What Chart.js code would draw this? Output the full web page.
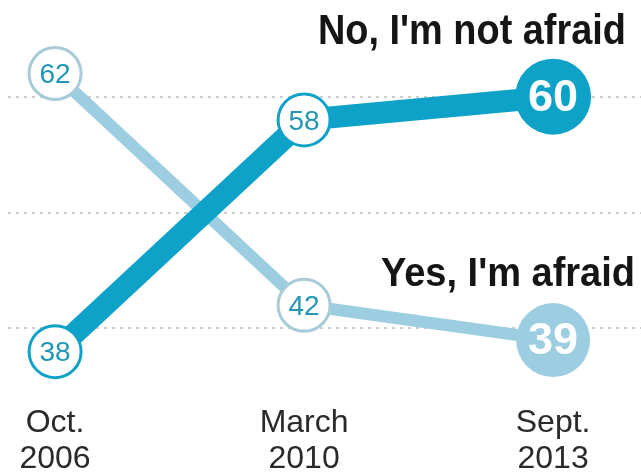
<!DOCTYPE html>
<html>
<head>
<meta charset="utf-8">
<script src="https://cdn.jsdelivr.net/npm/chart.js@4/dist/chart.umd.min.js"></script>
<style>
  html, body { margin: 0; padding: 0; background: #fff; }
  #wrap { width: 641px; height: 473px; position: relative; }
</style>
</head>
<body>
<div id="wrap"><canvas id="c" width="641" height="473"></canvas></div>
<script>
// Survey periods (x axis) and the two answer series
const periods = [["Oct.", "2006"], ["March", "2010"], ["Sept.", "2013"]];
const notAfraid = [38, 58, 60];
const afraid = [62, 42, 39];
const seriesNames = ["No, I'm not afraid", "Yes, I'm afraid"];
const gridValues = [40, 50, 60];

const DARK = '#0fa2c9';
const LIGHT = '#9dcde1';
const LABEL_TEAL = '#2396b5';

const xy = arr => arr.map((v, i) => ({ x: i, y: v }));
const lastBig = (arr, small, big) => arr.map((_, i) => i === arr.length - 1 ? big : small);

// Value inside each marker, and the series name next to its line
const markerText = {
  id: 'markerText',
  afterDatasetsDraw(chart, args, opts) {
    const ctx = chart.ctx;
    chart.data.datasets.forEach((ds, di) => {
      const meta = chart.getDatasetMeta(di);
      meta.data.forEach((pt, i) => {
        const last = i === ds.data.length - 1;
        ctx.save();
        ctx.textAlign = 'center';
        ctx.textBaseline = 'middle';
        if (last) {
          ctx.font = 'bold 45px "Liberation Sans", Arial, sans-serif';
          ctx.fillStyle = '#ffffff';
        } else {
          ctx.font = '28px "Liberation Sans", Arial, sans-serif';
          ctx.fillStyle = LABEL_TEAL;
        }
        ctx.fillText(String(ds.data[i].y), pt.x, pt.y + 2);
        ctx.restore();
      });
      // series name
      const nm = opts.names[di];
      if (nm) {
        ctx.save();
        ctx.font = 'bold ' + nm.size + 'px "Liberation Sans Narrow", "Liberation Sans", Arial, sans-serif';
        ctx.fillStyle = '#151515';
        ctx.textBaseline = 'alphabetic';
        ctx.textAlign = 'left';
        const w = ctx.measureText(ds.label).width;
        const sx = nm.width / w;
        ctx.translate(nm.right - nm.width, nm.baseline);
        ctx.scale(sx, 1);
        ctx.fillText(ds.label, 0, 0);
        ctx.restore();
      }
    });
  }
};

new Chart(document.getElementById('c'), {
  type: 'line',
  data: {
    datasets: [
      {
        label: seriesNames[0],
        data: xy(notAfraid),
        borderColor: DARK,
        borderWidth: 22,
        pointRadius: lastBig(notAfraid, 26, 38),
        pointBackgroundColor: lastBig(notAfraid, '#ffffff', DARK),
        pointBorderColor: DARK,
        pointBorderWidth: lastBig(notAfraid, 3, 0),
        order: 0,
        tension: 0
      },
      {
        label: seriesNames[1],
        data: xy(afraid),
        borderColor: LIGHT,
        borderWidth: 12,
        pointRadius: lastBig(afraid, 26, 37),
        pointBackgroundColor: lastBig(afraid, '#ffffff', LIGHT),
        pointBorderColor: lastBig(afraid, '#a8cbd8', LIGHT),
        pointBorderWidth: lastBig(afraid, 3, 0),
        order: 1,
        tension: 0
      }
    ]
  },
  options: {
    responsive: false,
    animation: false,
    events: [],
    layout: { autoPadding: false, padding: { top: 4, left: 8, right: 0, bottom: 0 } },
    plugins: {
      legend: { display: false },
      tooltip: { enabled: false },
      markerText: {
        names: [
          { right: 626, baseline: 44, width: 308, size: 42 },
          { right: 635, baseline: 286, width: 254, size: 40 }
        ]
      }
    },
    scales: {
      x: {
        type: 'linear',
        min: -0.189,
        max: 2.353,
        afterBuildTicks: s => { s.ticks = periods.map((_, i) => ({ value: i })); },
        afterFit: s => {
          s.height = 75;
          s.paddingLeft = 0; s.paddingRight = 0; s.paddingTop = 0; s.paddingBottom = 0;
        },
        grid: { display: false, drawTicks: false },
        border: { display: false },
        ticks: {
          autoSkip: false,
          maxRotation: 0,
          padding: 8,
          color: '#2a2a2a',
          font: { family: '"Liberation Sans", Arial, sans-serif', size: 32, lineHeight: 1.1 },
          callback: v => periods[v] || ''
        }
      },
      y: {
        min: 34,
        max: 68,
        afterBuildTicks: s => { s.ticks = gridValues.map(v => ({ value: v })); },
        afterFit: s => {
          s.width = 0;
          s.paddingLeft = 0; s.paddingRight = 0; s.paddingTop = 0; s.paddingBottom = 0;
        },
        border: { display: false, dash: [3, 5] },
        grid: {
          color: '#cdcdcd',
          lineWidth: 2,
          drawTicks: false
        },
        ticks: { display: false }
      }
    }
  },
  plugins: [markerText]
});
</script>
</body>
</html>
